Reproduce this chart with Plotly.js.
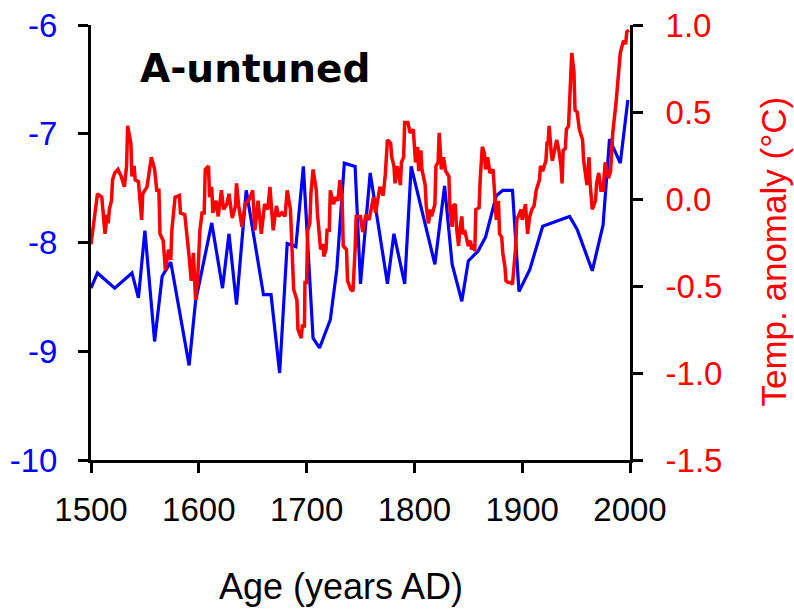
<!DOCTYPE html>
<html>
<head>
<meta charset="utf-8">
<script src="https://cdn.plot.ly/plotly-3.0.1.min.js"></script>
<style>
  html, body { margin: 0; padding: 0; background: #ffffff; }
  #chart { width: 794px; height: 610px; }
</style>
</head>
<body>
<div id="chart"></div>
<script>
// Isotope record (left axis), untuned age model
const isoYears = [1500, 1506, 1522, 1538, 1544, 1550, 1559, 1566, 1574, 1591, 1597, 1612, 1622, 1628, 1635, 1644,
  1660, 1667, 1675, 1682, 1690, 1697, 1706, 1712, 1722, 1728, 1735, 1745, 1750, 1759, 1775, 1781, 1791, 1797,
  1819, 1828, 1835, 1844, 1850, 1859, 1866, 1876, 1882, 1891, 1897, 1907, 1919, 1944, 1951, 1965, 1975, 1981,
  1991, 1998];
const isoValues = [-8.42, -8.28, -8.42, -8.28, -8.51, -7.89, -8.91, -8.31, -8.18, -9.13, -8.54, -7.82, -8.42, -7.92,
  -8.57, -7.52, -8.48, -8.48, -9.20, -8.01, -8.04, -7.30, -8.88, -8.97, -8.71, -8.25, -7.27, -7.30, -8.38, -7.36,
  -8.38, -7.92, -8.38, -7.30, -8.20, -7.48, -8.20, -8.54, -8.17, -8.08, -7.95, -7.57, -7.52, -7.52, -8.45, -8.25,
  -7.85, -7.76, -7.88, -8.26, -7.84, -7.05, -7.27, -6.69];

// Temperature anomaly reconstruction (right axis)
const tempYears = [1500, 1506, 1510, 1511, 1513, 1515, 1516, 1517, 1519, 1520, 1522, 1525, 1528, 1531, 1533, 1534,
  1537, 1538, 1540, 1541, 1544, 1547, 1548, 1552, 1554, 1556, 1559, 1561, 1563, 1564, 1567, 1569, 1572, 1574,
  1575, 1578, 1582, 1583, 1587, 1589, 1591, 1593, 1595, 1597, 1599, 1601, 1603, 1605, 1606, 1609, 1610, 1612,
  1613, 1616, 1618, 1621, 1623, 1626, 1628, 1631, 1634, 1635, 1637, 1640, 1643, 1647, 1650, 1652, 1655, 1658,
  1661, 1664, 1666, 1669, 1672, 1674, 1677, 1680, 1682, 1685, 1686, 1688, 1691, 1692, 1695, 1696, 1698, 1698.5,
  1700, 1701, 1703, 1704, 1706, 1709, 1710, 1712, 1713, 1715, 1716, 1718, 1719, 1721, 1722, 1725, 1727, 1729,
  1731, 1733, 1734, 1737, 1738, 1741, 1743, 1745, 1746, 1750, 1752, 1755, 1758, 1762, 1764, 1768, 1771, 1773,
  1775, 1778, 1779, 1781, 1782, 1784, 1787, 1788, 1790, 1791, 1794, 1796, 1799, 1801, 1803, 1804, 1806, 1807,
  1810, 1811, 1813, 1815, 1816, 1819, 1820, 1822, 1823, 1824, 1825, 1827, 1829, 1832, 1833, 1835, 1836, 1838,
  1839, 1841, 1842, 1844, 1845, 1847, 1848, 1850, 1852, 1853, 1855, 1856, 1857, 1860, 1861, 1863, 1865, 1866,
  1868, 1870, 1873, 1875, 1876, 1878, 1879, 1881, 1882, 1884, 1885, 1887, 1889, 1891, 1892, 1894, 1895, 1897,
  1899, 1900, 1903, 1905, 1907, 1909, 1911, 1913, 1916, 1917, 1919, 1922, 1923, 1924, 1925, 1927, 1928, 1930,
  1932, 1934, 1936, 1937, 1938, 1940, 1941, 1943, 1944, 1946, 1948, 1949, 1951, 1953, 1956, 1957, 1959, 1960,
  1962, 1963, 1965, 1968, 1969, 1971, 1973, 1975, 1977, 1980, 1982, 1984, 1987, 1989, 1991, 1994, 1996, 1997,
  1999];
const tempValues = [-0.26, 0.03, 0.01, -0.08, -0.20, -0.09, -0.14, -0.06, -0.01, 0.11, 0.15, 0.17, 0.13, 0.07, 0.19,
  0.42, 0.32, 0.13, 0.19, 0.11, 0.10, -0.12, 0.03, 0.07, 0.17, 0.24, 0.17, 0.05, 0.05, -0.20, -0.24, -0.41,
  -0.29, -0.35, -0.18, 0.01, 0.02, -0.08, -0.09, -0.24, -0.33, -0.47, -0.31, -0.58, -0.45, -0.18, -0.08, -0.08,
  0.17, 0.19, 0.01, 0.07, -0.08, -0.01, -0.10, 0.05, -0.06, -0.03, 0.03, -0.11, -0.04, 0.09, -0.04, -0.16,
  -0.03, 0.00, 0.05, -0.18, -0.01, -0.20, -0.03, -0.06, 0.07, -0.18, -0.04, -0.10, -0.08, -0.10, 0.05, -0.06,
  -0.27, -0.52, -0.58, -0.75, -0.80, -0.73, -0.73, -0.48, -0.48, -0.18, -0.14, 0.03, 0.17, 0.05, -0.08, -0.20,
  -0.29, -0.26, -0.33, -0.29, -0.18, -0.18, 0.05, -0.03, 0.01, -0.01, 0.11, -0.01, -0.27, -0.29, -0.47, -0.52,
  -0.53, -0.29, -0.10, -0.10, -0.19, -0.09, -0.12, 0.01, -0.08, 0.07, 0.02, 0.14, 0.34, 0.32, 0.24, 0.19, 0.09,
  0.19, 0.08, 0.21, 0.24, 0.44, 0.44, 0.38, 0.40, 0.21, 0.30, 0.16, 0.28, 0.17, 0.08, -0.04, -0.14, -0.06,
  -0.10, -0.03, 0.19, 0.21, 0.38, 0.28, 0.17, 0.24, 0.16, 0.13, -0.06, -0.16, -0.04, -0.03, -0.16, -0.27,
  -0.18, -0.10, -0.20, -0.19, -0.22, -0.27, -0.24, -0.29, -0.26, -0.30, -0.06, -0.05, 0.11, 0.30, 0.26, 0.17,
  0.24, 0.15, 0.17, -0.01, -0.12, -0.01, -0.20, -0.22, -0.31, -0.39, -0.47, -0.48, -0.48, -0.49, -0.41, -0.27,
  -0.12, -0.09, -0.06, -0.12, -0.03, -0.20, -0.10, -0.06, -0.04, 0.05, 0.11, 0.19, 0.16, 0.22, 0.32, 0.32,
  0.42, 0.26, 0.22, 0.28, 0.34, 0.28, 0.19, 0.09, 0.28, 0.29, 0.40, 0.42, 0.59, 0.84, 0.73, 0.51, 0.50, 0.40,
  0.34, 0.22, 0.13, 0.08, 0.24, 0.09, -0.06, -0.01, 0.09, 0.15, 0.05, 0.05, 0.21, 0.12, 0.16, 0.38, 0.55,
  0.68, 0.84, 0.91, 0.89, 0.96, 0.97];

// Axis tick labels (plain hyphen minus)
const xTicks = [1500, 1600, 1700, 1800, 1900, 2000];
const xTickText = ['1500', '1600', '1700', '1800', '1900', '2000'];
const leftTicks = [-10, -9, -8, -7, -6];
const leftTickText = ['-10', '-9', '-8', '-7', '-6'];
const rightTicks = [-1.5, -1.0, -0.5, 0.0, 0.5, 1.0];
const rightTickText = ['-1.5', '-1.0', '-0.5', '0.0', '0.5', '1.0'];

const BLUE = '#0000ff';
const RED = '#ff0000';
const FONT = 'Liberation Sans, Arial, sans-serif';

const traces = [
  {
    x: isoYears, y: isoValues, type: 'scatter', mode: 'lines',
    line: { color: BLUE, width: 3.2 }, yaxis: 'y', hoverinfo: 'x+y'
  },
  {
    x: tempYears, y: tempValues, type: 'scatter', mode: 'lines',
    line: { color: RED, width: 3.5 }, yaxis: 'y2', hoverinfo: 'x+y'
  }
];

const axisCommon = {
  showline: true, linecolor: '#000000', linewidth: 3,
  ticks: 'outside', ticklen: 10, tickwidth: 3, tickcolor: '#000000',
  showgrid: false, zeroline: false, fixedrange: true
};

const layout = {
  width: 794, height: 610,
  margin: { l: 91, r: 164, t: 25, b: 150, pad: 0 },
  paper_bgcolor: '#ffffff', plot_bgcolor: '#ffffff',
  showlegend: false,
  font: { family: FONT, size: 33, color: '#000000' },
  xaxis: Object.assign({}, axisCommon, {
    range: [1500, 2000], tickmode: 'array', tickvals: xTicks, ticktext: xTickText,
    tickfont: { family: FONT, size: 33, color: '#000000' }, ticklabelstandoff: 8
  }),
  yaxis: Object.assign({}, axisCommon, {
    range: [-10, -6], tickmode: 'array', tickvals: leftTicks, ticktext: leftTickText,
    tickfont: { family: FONT, size: 33, color: BLUE }, ticklabelstandoff: 14
  }),
  yaxis2: Object.assign({}, axisCommon, {
    range: [-1.5, 1.0], overlaying: 'y', side: 'right',
    tickmode: 'array', tickvals: rightTicks, ticktext: rightTickText,
    tickfont: { family: FONT, size: 33, color: RED }, ticklabelstandoff: 16
  }),
  annotations: [
    {
      text: '<b>A-untuned</b>', xref: 'paper', yref: 'paper', x: 0.088, y: 0.9,
      xanchor: 'left', yanchor: 'middle', showarrow: false,
      font: { family: 'DejaVu Sans, sans-serif', size: 39, color: '#000000' }
    },
    {
      text: 'Age (years AD)', xref: 'paper', yref: 'paper', x: 0.463, y: -0.29,
      xanchor: 'center', yanchor: 'middle', showarrow: false,
      font: { family: FONT, size: 36, color: '#000000' }
    },
    {
      text: 'Temp. anomaly (°C)', xref: 'paper', yref: 'paper', x: 1.266, y: 0.48,
      xanchor: 'center', yanchor: 'middle', textangle: -90, showarrow: false,
      font: { family: FONT, size: 35, color: RED }
    }
  ]
};

Plotly.newPlot('chart', traces, layout, { displayModeBar: false, staticPlot: true });
</script>
</body>
</html>
